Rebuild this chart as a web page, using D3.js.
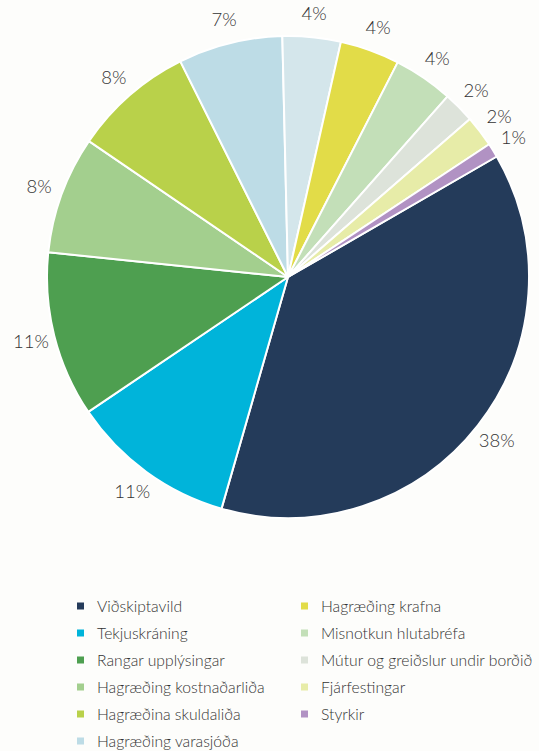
<!DOCTYPE html>
<html>
<head>
<meta charset="utf-8">
<script src="https://cdn.jsdelivr.net/npm/d3@7"></script>
<style>
  body { margin: 0; background: #fdfdfb; }
  svg { display: block; }
</style>
</head>
<body>
<div id="chart"></div>
<script>
// Data ////////////////////////////////////////////////////////////
// slice order runs clockwise, starting with Viðskiptavild
var categories = [
  "Viðskiptavild", "Tekjuskráning", "Rangar upplýsingar", "Hagræðing kostnaðarliða",
  "Hagræðina skuldaliða", "Hagræðing varasjóða", "", "Hagræðing krafna",
  "Misnotkun hlutabréfa", "Mútur og greiðslur undir borðið", "Fjárfestingar", "Styrkir"
];
var values = [37.8, 11.1, 11.1, 7.9, 8.1, 7.0, 3.9, 4.0, 4.0, 2.1, 2.1, 0.95];
var labels = ["38%", "11%", "11%", "8%", "8%", "7%", "4%", "4%", "4%", "2%", "2%", "1%"];
var colors = [
  "#243b5a", "#00b4da", "#4e9f50", "#a3cf8e", "#b9d14a", "#bddce6",
  "#d4e6eb", "#e2dc48", "#c3dfb8", "#dde3da", "#e7eca8", "#b192c3"
];

// Layout //////////////////////////////////////////////////////////
var W = 539, H = 751;
var cx = 288, cy = 277, radius = 241, labelR = 265;

var svg = d3.select("#chart")
  .append("svg")
    .attr("width", W)
    .attr("height", H);

var slices = categories.map(function(c, i) {
  return { name: c, value: values[i], label: labels[i], color: colors[i] };
});

var startA = 60 * Math.PI / 180;
var pie = d3.pie()
  .sort(null)
  .value(function(d) { return d.value; })
  .startAngle(startA)
  .endAngle(startA + 2 * Math.PI);

var arc = d3.arc().innerRadius(0).outerRadius(radius);
var labelArc = d3.arc().innerRadius(labelR).outerRadius(labelR);

var g = svg.append("g")
  .attr("transform", "translate(" + cx + "," + cy + ")");

g.selectAll("path")
  .data(pie(slices))
  .enter()
  .append("path")
    .attr("d", arc)
    .style("fill", function(d) { return d.data.color; })
    .style("stroke", "#ffffff")
    .style("stroke-width", 2)
    .style("stroke-linejoin", "round");

// percentage labels
g.selectAll("text")
  .data(pie(slices))
  .enter()
  .append("text")
    .attr("x", function(d) { return labelArc.centroid(d)[0]; })
    .attr("y", function(d) { return labelArc.centroid(d)[1]; })
    .attr("dy", "0.36em")
    .style("text-anchor", "middle")
    .style("font-family", "Lato, sans-serif")
    .style("font-weight", 300)
    .style("font-size", "18.5px")
    .style("fill", "#333333")
    .text(function(d) { return d.data.label; });

// Legend //////////////////////////////////////////////////////////
var legendItems = slices.filter(function(d) { return d.name !== ""; });
var colX = [77, 301], textGap = 20, rowY0 = 606, rowH = 27, perCol = 6;

var legend = svg.selectAll(".legend")
  .data(legendItems)
  .enter().append("g")
  .attr("class", "legend")
  .attr("transform", function(d, i) {
    var col = i < perCol ? 0 : 1;
    var row = i < perCol ? i : i - perCol;
    return "translate(" + colX[col] + "," + (rowY0 + row * rowH) + ")";
  });

legend.append("rect")
  .attr("x", 0)
  .attr("y", -3.5)
  .attr("width", 7)
  .attr("height", 7)
  .style("fill", function(d) { return d.color; });

legend.append("text")
  .attr("x", textGap)
  .attr("y", 0)
  .attr("dy", "0.35em")
  .style("font-family", "Lato, sans-serif")
  .style("font-weight", 300)
  .style("font-size", "15.7px")
  .style("fill", "#333333")
  .text(function(d) { return d.name; });
</script>
</body>
</html>
